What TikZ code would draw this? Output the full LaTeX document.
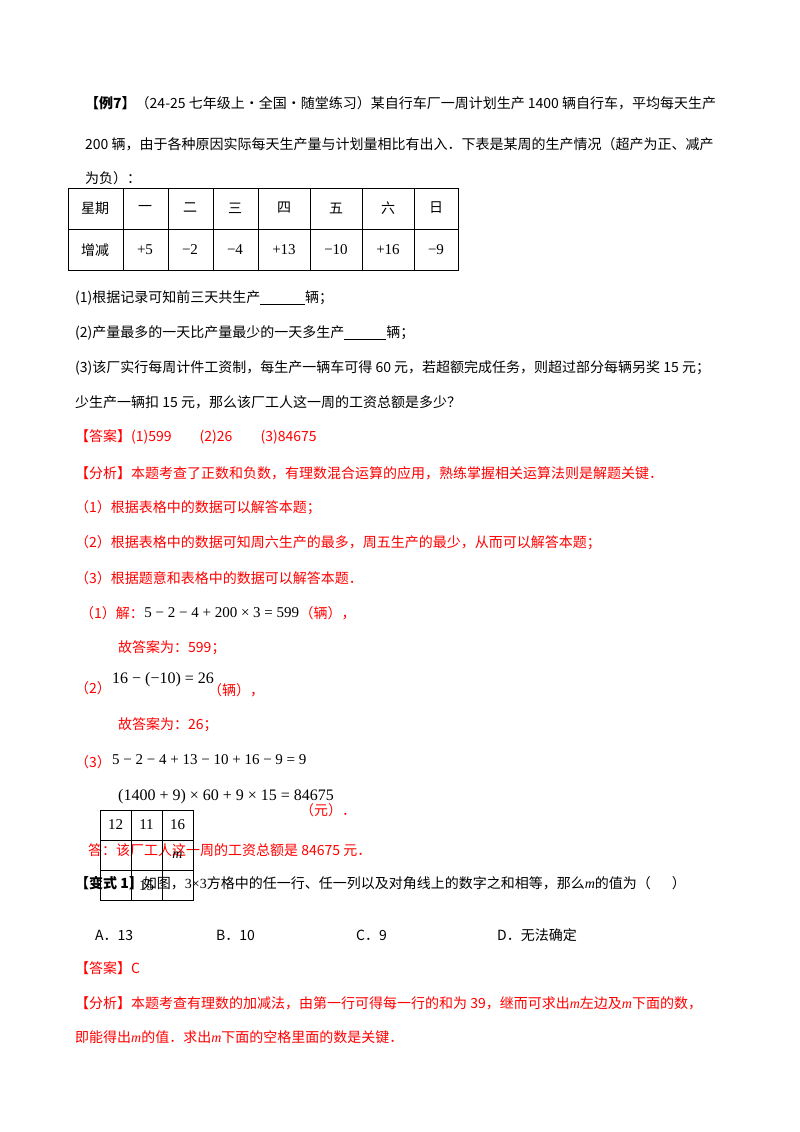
\documentclass[tikz,border=0pt]{standalone}
\usepackage{fontspec}
\setmainfont{Noto Sans CJK SC}
\newfontfamily\tms{Liberation Serif}
\definecolor{rd}{RGB}{255,0,0}
\begin{document}
\begin{tikzpicture}[x=1pt,y=-1pt,
  tx/.style={anchor=west,inner sep=0pt,font=\fontsize{14}{16}\selectfont},
  rx/.style={tx,text=rd},
  mx/.style={anchor=west,inner sep=0pt,font=\tms\fontsize{16}{18}\selectfont},
  cx/.style={inner sep=0pt,font=\fontsize{14}{16}\selectfont},
  cnum/.style={inner sep=0pt,font=\tms\fontsize{15}{18}\selectfont},
  gl/.style={line width=0.8pt}]
\useasboundingbox (0,0) rectangle (800,1132);
\fill[white] (0,0) rectangle (800,1132);
\node[tx] (l1) at (85,103) {\textbf{【例7】}（24-25 七年级上·全国·随堂练习）某自行车厂一周计划生产 1400 辆自行车，平均每天生产};
\node[tx] (l2) at (85,144) {200 辆，由于各种原因实际每天生产量与计划量相比有出入．下表是某周的生产情况（超产为正、减产};
\node[tx] (l3) at (85,178) {为负）：};
% table
\draw[gl] (68,188) rectangle (458,270);
\draw[gl] (68,229) -- (458,229);
\foreach \x in {123,168,213,258,310,362,414} \draw[gl] (\x,188) -- (\x,270);
\node[cx] (h0) at (95,208) {星期};
\node[cx] (h1) at (145,208) {一};
\node[cx] (h2) at (190,208) {二};
\node[cx] (h3) at (235,208) {三};
\node[cx] (h4) at (284,208) {四};
\node[cx] (h5) at (336,208) {五};
\node[cx] (h6) at (388,208) {六};
\node[cx] (h7) at (436,208) {日};
\node[cx] (v0) at (95,250) {增减};
\node[cnum] (v1) at (145,250) {+5};
\node[cnum] (v2) at (190,250) {−2};
\node[cnum] (v3) at (235,250) {−4};
\node[cnum] (v4) at (284,250) {+13};
\node[cnum] (v5) at (336,250) {−10};
\node[cnum] (v6) at (388,250) {+16};
\node[cnum] (v7) at (436,250) {−9};
\node[tx] (q1) at (75,298) {(1)根据记录可知前三天共生产\underline{\hspace{3.2em}}辆；};
\node[tx] (q2) at (75,333) {(2)产量最多的一天比产量最少的一天多生产\underline{\hspace{3em}}辆；};
\node[tx] (q3) at (75,368) {(3)该厂实行每周计件工资制，每生产一辆车可得 60 元，若超额完成任务，则超过部分每辆另奖 15 元；};
\node[tx] (q4) at (75,402) {少生产一辆扣 15 元，那么该厂工人这一周的工资总额是多少？};
\node[rx] (a0) at (75,437) {【答案】(1)599\hspace{2em}(2)26\hspace{2em}(3)84675};
\node[rx] (f0) at (75,473) {【分析】本题考查了正数和负数，有理数混合运算的应用，熟练掌握相关运算法则是解题关键．};
\node[rx] (f1) at (75,508) {（1）根据表格中的数据可以解答本题；};
\node[rx] (f2) at (75,543) {（2）根据表格中的数据可知周六生产的最多，周五生产的最少，从而可以解答本题；};
\node[rx] (f3) at (75,578) {（3）根据题意和表格中的数据可以解答本题．};
\node[rx] (s1) at (80,613) {（1）解：};
\node[mx,font=\tms\fontsize{15}{18}\selectfont] (s1m) at (s1.east) {5 − 2 − 4 + 200 × 3 = 599};
\node[rx] (s1u) at (s1m.east) {（辆），};
\node[rx] (s1a) at (118,648) {故答案为：599；};
\node[rx] (s2) at (75,688) {（2）};
\node[mx] (s2m) at (112,680) {16 − (−10) = 26};
\node[rx] (s2u) at (208,690) {（辆），};
\node[rx] (s2a) at (118,725) {故答案为：26；};
\node[rx] (s3) at (75,762) {（3）};
\node[mx,font=\tms\fontsize{15}{18}\selectfont] (s3m) at (112,760) {5 − 2 − 4 + 13 − 10 + 16 − 9 = 9，};
\node[mx] (s3n) at (118,797) {(1400 + 9) × 60 + 9 × 15 = 84675};
\node[rx] (s3u) at (300,810) {（元）．};
\node[rx] (ans) at (88,850) {答：该厂工人这一周的工资总额是 84675 元．};
\node[tx] (b0) at (75,883) {\textbf{【变式 1】}如图，{\tms 3×3}方格中的任一行、任一列以及对角线上的数字之和相等，那么{\tms\itshape m}的值为（\hspace{1.5em}）};
% grid
\draw[gl] (100,810) rectangle (193,900);
\foreach \x in {131,162} \draw[gl] (\x,810) -- (\x,900);
\foreach \y in {840,870} \draw[gl] (100,\y) -- (193,\y);
\node[cnum] (g1) at (115.5,825) {12};
\node[cnum] (g2) at (146.5,825) {11};
\node[cnum] (g3) at (177.5,825) {16};
\node[cnum,font=\tms\itshape\fontsize{14}{16}\selectfont] (g4) at (177.5,855) {m};
\node[cnum] (g5) at (146.5,886) {15};
\node[tx] (oa) at (95,935) {A．13};
\node[tx] (ob) at (216,935) {B．10};
\node[tx] (oc) at (356,935) {C．9};
\node[tx] (od) at (497,935) {D．无法确定};
\node[rx] (k0) at (75,968) {【答案】C};
\node[rx] (k1) at (75,1003) {【分析】本题考查有理数的加减法，由第一行可得每一行的和为 39，继而可求出{\tms\itshape m}左边及{\tms\itshape m}下面的数，};
\node[rx] (k2) at (75,1037) {即能得出{\tms\itshape m}的值．求出{\tms\itshape m}下面的空格里面的数是关键．};
\end{tikzpicture}
\end{document}
